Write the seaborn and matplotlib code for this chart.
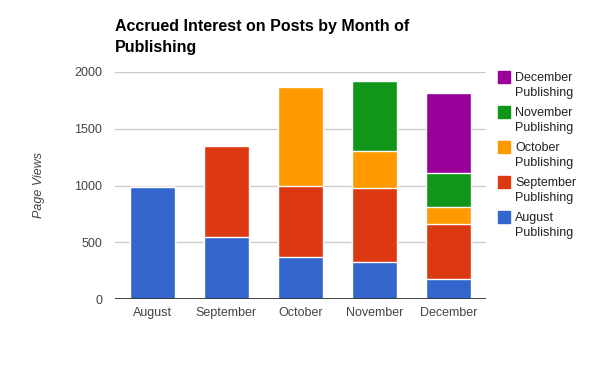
import matplotlib
matplotlib.use("Agg")
import matplotlib.pyplot as plt
import seaborn as sns
import pandas as pd
from matplotlib.patches import Rectangle

# Page views per month, split by the month the post was published
months = ["August", "September", "October", "November", "December"]
august_pub = [985, 550, 374, 325, 181]
september_pub = [0, 795, 623, 649, 477]
october_pub = [0, 0, 868, 333, 149]
november_pub = [0, 0, 0, 611, 304]
december_pub = [0, 0, 0, 0, 702]

series = ["August", "September", "October", "November", "December"]
colors = ["#3366cc", "#dc3912", "#ff9900", "#109618", "#990099"]

df = pd.DataFrame({
    "Month": months,
    "August": august_pub,
    "September": september_pub,
    "October": october_pub,
    "November": november_pub,
    "December": december_pub,
})

sns.set_style("white")
plt.rcParams["font.family"] = ["Liberation Sans", "DejaVu Sans"]

fig = plt.figure(figsize=(6, 3.71), dpi=100)
ax = fig.add_axes([0.192, 0.193, 0.618, 0.614])

# stacked bars: draw cumulative totals from the top layer down
cum = df[series].cumsum(axis=1)
for name, c in reversed(list(zip(series, colors))):
    sns.barplot(x=df["Month"], y=cum[name], color=c, width=0.606, saturation=1,
                edgecolor="white", linewidth=1, ax=ax, zorder=3)

ax.set_ylim(0, 2000)
ax.set_yticks([0, 500, 1000, 1500, 2000])
ax.grid(axis="y", color="#cccccc", linewidth=1, zorder=0)
ax.axhline(0, color="#333333", linewidth=1.3, zorder=4)
for s in ax.spines.values():
    s.set_visible(False)
ax.tick_params(axis="both", length=0, labelsize=9, labelcolor="#444444")
ax.tick_params(axis="y", pad=9.5)
ax.tick_params(axis="x", pad=5.5)
ax.set_xlabel("")
ax.set_ylabel("Page Views", fontsize=9, style="italic", color="#444444")
ax.yaxis.set_label_coords(-0.19, 0.5)

fig.text(115 / 600, 1 - 52 / 371, "Accrued Interest on Posts by Month of\nPublishing",
         fontsize=11.5, fontweight="bold", color="#000000", va="baseline",
         linespacing=1.5)

# legend, top entry is the latest publishing month
W, H = 600, 371
for i, (name, c) in enumerate(reversed(list(zip(series, colors)))):
    top = 71 + 35 * i
    fig.add_artist(Rectangle((498 / W, 1 - (top + 12) / H), 12 / W, 12 / H,
                             transform=fig.transFigure, color=c))
    fig.text(515 / W, 1 - (top + 10) / H, name, fontsize=9, color="#222222",
             va="baseline")
    fig.text(515 / W, 1 - (top + 25) / H, "Publishing", fontsize=9,
             color="#222222", va="baseline")

fig.savefig("out.png", dpi=100)
